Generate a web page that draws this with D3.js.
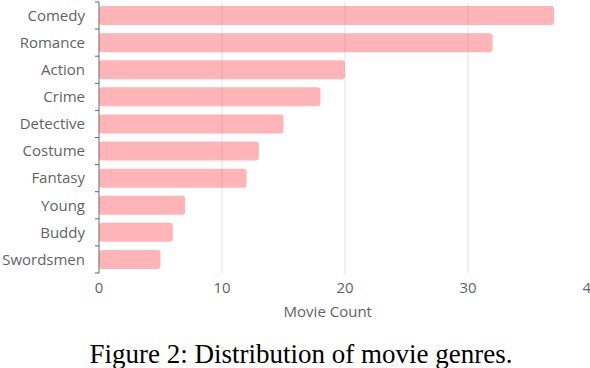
<!DOCTYPE html>
<html>
<head>
<meta charset="utf-8">
<script src="https://d3js.org/d3.v7.min.js"></script>
<style>
  body { margin: 0; background: #fff; }
  svg text { font-family: "Open Sans", sans-serif; }
</style>
</head>
<body>
<div id="chart"></div>
<script>
// genres and counts, top to bottom
var genres = ["Comedy", "Romance", "Action", "Crime", "Detective", "Costume", "Fantasy", "Young", "Buddy", "Swordsmen"];
var counts = [37, 32, 20, 18, 15, 13, 12, 7, 6, 5];
var xTicks = [0, 10, 20, 30, 40];

var W = 590, H = 368;
var margin = {top: 2, left: 99, bottom: 95};
var plotW = 492, plotH = H - margin.top - margin.bottom;

var svg = d3.select("#chart").append("svg")
    .attr("width", W).attr("height", H);

var g = svg.append("g")
    .attr("transform", "translate(" + margin.left + "," + margin.top + ")");

var x = d3.scaleLinear().domain([0, 40]).range([0, plotW]);
var y = d3.scaleBand().domain(genres).range([0, plotH]).paddingInner(0.3).paddingOuter(0.15);

// vertical gridlines
g.selectAll(".grid")
  .data(xTicks.slice(1))
  .enter().append("line")
    .attr("x1", function(d) { return x(d); })
    .attr("x2", function(d) { return x(d); })
    .attr("y1", 0).attr("y2", plotH)
    .attr("stroke", "#dfe1e6").attr("stroke-width", 1);

// bars
g.selectAll(".bar")
  .data(genres)
  .enter().append("rect")
    .attr("x", 0)
    .attr("y", function(d) { return y(d); })
    .attr("width", function(d, i) { return x(counts[i]); })
    .attr("height", y.bandwidth())
    .attr("rx", 3)
    .attr("fill", "rgb(255,99,107)")
    .attr("fill-opacity", 0.48);

// left axis with ticks at band edges
g.append("line")
  .attr("x1", 0).attr("x2", 0).attr("y1", 0).attr("y2", plotH)
  .attr("stroke", "#666").attr("stroke-width", 1);

var step = plotH / genres.length;
g.selectAll(".ytick")
  .data(d3.range(genres.length + 1))
  .enter().append("line")
    .attr("x1", -4).attr("x2", 0)
    .attr("y1", function(d) { return d * step; })
    .attr("y2", function(d) { return d * step; })
    .attr("stroke", "#666");

g.selectAll(".ylab")
  .data(genres)
  .enter().append("text")
    .attr("x", -14)
    .attr("y", function(d) { return y(d) + y.bandwidth() / 2; })
    .attr("dy", "0.35em")
    .attr("text-anchor", "end")
    .attr("font-size", 15)
    .attr("fill", "#5f6368")
    .text(function(d) { return d; });

// x tick labels
g.selectAll(".xlab")
  .data(xTicks)
  .enter().append("text")
    .attr("x", function(d) { return x(d); })
    .attr("y", plotH + 20)
    .attr("text-anchor", "middle")
    .attr("font-size", 15)
    .attr("fill", "#5f6368")
    .text(function(d) { return d; });

g.append("text")
  .attr("x", x(18.6))
  .attr("y", plotH + 44)
  .attr("text-anchor", "middle")
  .attr("font-size", 15)
  .attr("fill", "#5f6368")
  .text("Movie Count");

svg.append("text")
  .attr("x", 301)
  .attr("y", 363)
  .attr("text-anchor", "middle")
  .attr("font-size", 27)
  .style("font-family", "'Liberation Serif', serif")
  .attr("fill", "#000")
  .text("Figure 2: Distribution of movie genres.");
</script>
</body>
</html>
